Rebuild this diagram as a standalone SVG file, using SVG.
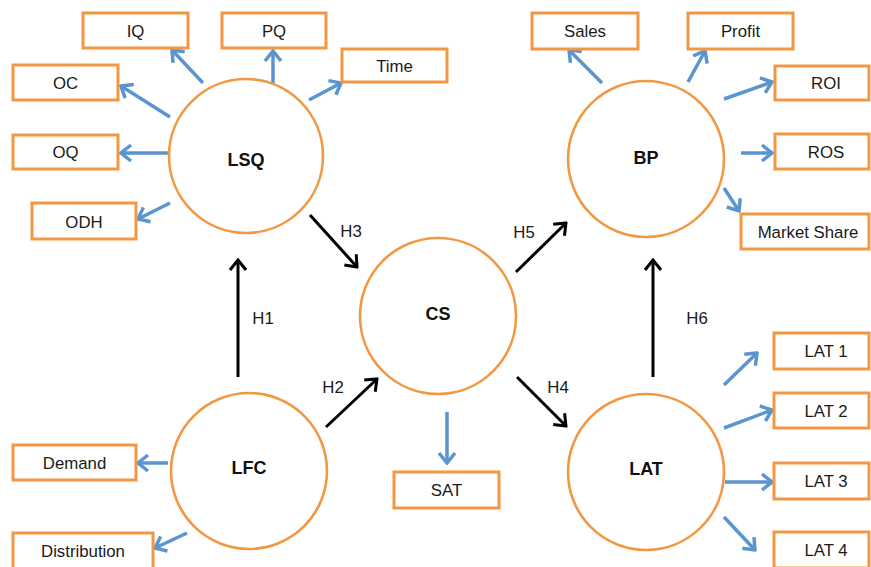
<svg xmlns="http://www.w3.org/2000/svg" width="871" height="567" viewBox="0 0 871 567">
<style>
.bg{fill:#ffffff}
.circ{fill:#ffffff;stroke:#F29742;stroke-width:2.6}
.box{fill:#ffffff;stroke:#F29742;stroke-width:3}
.ctext{font-family:"Liberation Sans",Arial,sans-serif;font-size:18px;font-weight:bold;fill:#111;text-anchor:middle}
.btext{font-family:"Liberation Sans",Arial,sans-serif;font-size:16.8px;fill:#1a1a1a;text-anchor:middle}
.htext{font-family:"Liberation Sans",Arial,sans-serif;font-size:16.8px;fill:#1a1a1a;text-anchor:middle}
.blk{stroke:#000;stroke-width:3;fill:none;marker-end:url(#ab)}
.blu{stroke:#5B95CF;stroke-width:3.5;fill:none;marker-end:url(#au)}
</style>
<defs>
<marker id="ab" markerUnits="userSpaceOnUse" viewBox="-12 -10 14 20" refX="0" refY="0" markerWidth="14" markerHeight="20" orient="auto">
<path d="M-10,-8 L0,0 L-10,8" fill="none" stroke="#000" stroke-width="3" stroke-linejoin="miter"/>
</marker>
<marker id="au" markerUnits="userSpaceOnUse" viewBox="-12 -10 14 20" refX="0" refY="0" markerWidth="14" markerHeight="20" orient="auto">
<path d="M-10,-8 L0,0 L-10,8" fill="none" stroke="#5B95CF" stroke-width="3.5" stroke-linejoin="miter"/>
</marker>
</defs>
<rect class="bg" x="0" y="0" width="871" height="567"/>

<g id="connectors">
<line class="blu" x1="203" y1="83" x2="172" y2="50"/>
<line class="blu" x1="273" y1="83" x2="273" y2="51"/>
<line class="blu" x1="309" y1="100" x2="341" y2="83"/>
<line class="blu" x1="170" y1="117" x2="121" y2="86"/>
<line class="blu" x1="168" y1="153" x2="121" y2="153"/>
<line class="blu" x1="170" y1="203" x2="138" y2="219"/>
<line class="blu" x1="602" y1="83" x2="569" y2="50"/>
<line class="blu" x1="688" y1="82" x2="705" y2="51"/>
<line class="blu" x1="724" y1="99" x2="772" y2="82"/>
<line class="blu" x1="741" y1="153" x2="772" y2="153"/>
<line class="blu" x1="724" y1="188" x2="739" y2="211"/>
<line class="blu" x1="724" y1="385" x2="757" y2="353"/>
<line class="blu" x1="724" y1="428" x2="772" y2="410"/>
<line class="blu" x1="725" y1="482" x2="772" y2="482"/>
<line class="blu" x1="724" y1="517" x2="755" y2="550"/>
<line class="blu" x1="168" y1="463" x2="138" y2="463"/>
<line class="blu" x1="187" y1="533" x2="155" y2="548"/>
<line class="blu" x1="447" y1="412" x2="447" y2="463"/>
<line class="blk" x1="238" y1="377" x2="238" y2="260"/>
<line class="blk" x1="326" y1="427" x2="377" y2="379"/>
<line class="blk" x1="310" y1="215" x2="357" y2="267"/>
<line class="blk" x1="516" y1="272" x2="566" y2="223"/>
<line class="blk" x1="517" y1="377" x2="566" y2="426"/>
<line class="blk" x1="653" y1="377" x2="653" y2="260"/>
<text class="htext" x="263" y="324">H1</text>
<text class="htext" x="333" y="393">H2</text>
<text class="htext" x="351" y="237">H3</text>
<text class="htext" x="558" y="393">H4</text>
<text class="htext" x="524" y="238">H5</text>
<text class="htext" x="697" y="324">H6</text>
</g>

<g id="LSQ"><circle class="circ" cx="246" cy="156" r="77"/><text class="ctext" x="246" y="166">LSQ</text></g>
<g id="CS"><circle class="circ" cx="438" cy="316" r="78"/><text class="ctext" x="438" y="320">CS</text></g>
<g id="BP"><circle class="circ" cx="646" cy="159" r="78"/><text class="ctext" x="646" y="164">BP</text></g>
<g id="LFC"><circle class="circ" cx="249" cy="471" r="78"/><text class="ctext" x="249" y="474">LFC</text></g>
<g id="LAT"><circle class="circ" cx="646" cy="472" r="78"/><text class="ctext" x="646" y="475">LAT</text></g>

<g id="IQ"><rect class="box" x="83" y="13" width="105" height="35"/><text class="btext" x="135.5" y="37">IQ</text></g>
<g id="PQ"><rect class="box" x="222" y="13" width="104" height="35"/><text class="btext" x="274" y="37">PQ</text></g>
<g id="Time"><rect class="box" x="342" y="49" width="105" height="33"/><text class="btext" x="394.5" y="72">Time</text></g>
<g id="OC"><rect class="box" x="13" y="65" width="105" height="35"/><text class="btext" x="65.5" y="89">OC</text></g>
<g id="OQ"><rect class="box" x="13" y="135" width="105" height="34"/><text class="btext" x="65.5" y="158">OQ</text></g>
<g id="ODH"><rect class="box" x="32" y="203" width="104" height="36"/><text class="btext" x="84" y="228">ODH</text></g>

<g id="Sales"><rect class="box" x="532" y="13" width="106" height="36"/><text class="btext" x="585" y="37">Sales</text></g>
<g id="Profit"><rect class="box" x="688" y="13" width="105" height="36"/><text class="btext" x="740.5" y="37">Profit</text></g>
<g id="ROI"><rect class="box" x="775" y="66" width="94" height="34"/><text class="btext" x="826" y="89">ROI</text></g>
<g id="ROS"><rect class="box" x="775" y="134" width="94" height="35"/><text class="btext" x="826" y="158">ROS</text></g>
<g id="MarketShare"><rect class="box" x="741" y="214" width="128" height="35"/><text class="btext" x="808" y="238">Market Share</text></g>

<g id="LAT1"><rect class="box" x="774" y="333" width="95" height="36"/><text class="btext" x="826" y="357">LAT 1</text></g>
<g id="LAT2"><rect class="box" x="774" y="393" width="95" height="35"/><text class="btext" x="826" y="417">LAT 2</text></g>
<g id="LAT3"><rect class="box" x="774" y="463" width="95" height="36"/><text class="btext" x="826" y="487">LAT 3</text></g>
<g id="LAT4"><rect class="box" x="774" y="532" width="95" height="36"/><text class="btext" x="826" y="556">LAT 4</text></g>

<g id="Demand"><rect class="box" x="13" y="445" width="123" height="35"/><text class="btext" x="74.5" y="469">Demand</text></g>
<g id="Distribution"><rect class="box" x="13" y="533" width="140" height="36"/><text class="btext" x="83" y="557">Distribution</text></g>
<g id="SAT"><rect class="box" x="394" y="472" width="105" height="36"/><text class="btext" x="446.5" y="496">SAT</text></g>
</svg>
